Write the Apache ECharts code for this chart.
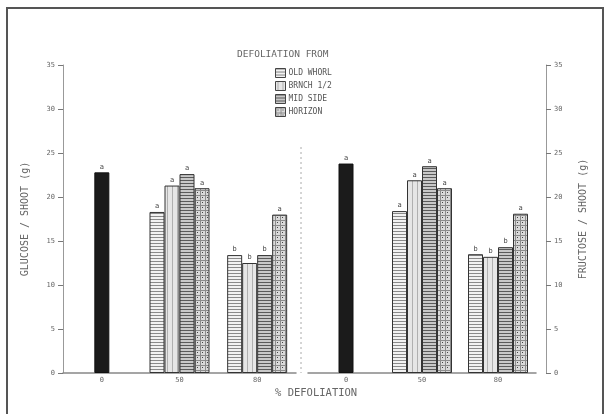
<!DOCTYPE html>
<html>
<head>
<meta charset="utf-8">
<script src="https://cdn.jsdelivr.net/npm/echarts@6/dist/echarts.min.js"></script>
<style>
  html, body { margin: 0; padding: 0; background: #fff; }
  #chart { width: 609px; height: 414px; }
</style>
</head>
<body>
<div id="chart"></div>
<script>
// Defoliation levels (% removed) and the four defoliation positions
const categories = ['0', '50', '80'];
const treatments = ['OLD WHORL', 'BRNCH 1/2', 'MID SIDE', 'HORIZON'];

// Undefoliated control shoots
const glucoseControl = 22.8;
const fructoseControl = 23.8;
const controlLetter = 'a';

// Values per treatment at 50 % and 80 % defoliation
const glucoseOldWhorl = [18.3, 13.4];
const glucoseBranch   = [21.3, 12.5];
const glucoseMidSide  = [22.6, 13.4];
const glucoseHorizon  = [21.0, 18.0];

const fructoseOldWhorl = [18.4, 13.5];
const fructoseBranch   = [21.9, 13.2];
const fructoseMidSide  = [23.5, 14.3];
const fructoseHorizon  = [21.0, 18.1];

// Significance letters per treatment at 50 % and 80 %
const glucoseLetters  = [['a', 'b'], ['a', 'b'], ['a', 'b'], ['a', 'a']];
const fructoseLetters = [['a', 'b'], ['a', 'b'], ['a', 'b'], ['a', 'a']];

const yTicks = [0, 5, 10, 15, 20, 25, 30, 35];

const glucose = [glucoseOldWhorl, glucoseBranch, glucoseMidSide, glucoseHorizon];
const fructose = [fructoseOldWhorl, fructoseBranch, fructoseMidSide, fructoseHorizon];

// Hatch fills drawn on small tiles
function tile(w, h, draw) {
  const c = document.createElement('canvas');
  c.width = w; c.height = h;
  const g = c.getContext('2d');
  draw(g, w, h);
  return { image: c, repeat: 'repeat' };
}
const fills = [
  // horizontal stripes
  tile(4, 6, (g, w, h) => {
    g.fillStyle = '#f2f2f2'; g.fillRect(0, 0, w, h);
    g.fillStyle = '#8a8a8a'; g.fillRect(0, 0, w, 1); g.fillRect(0, 3, w, 1);
  }),
  // light vertical stripes
  tile(5, 4, (g, w, h) => {
    g.fillStyle = '#e6e6e6'; g.fillRect(0, 0, w, h);
    g.fillStyle = '#b0b0b0'; g.fillRect(2, 0, 1, h);
  }),
  // dense horizontal stripes
  tile(4, 3, (g, w, h) => {
    g.fillStyle = '#c8c8c8'; g.fillRect(0, 0, w, h);
    g.fillStyle = '#5a5a5a'; g.fillRect(0, 0, w, 1);
  }),
  // cross-hatch with dots
  tile(5, 5, (g, w, h) => {
    g.fillStyle = '#dadada'; g.fillRect(0, 0, w, h);
    g.fillStyle = '#8c8c8c'; g.fillRect(0, 0, w, 1); g.fillRect(0, 0, 1, h);
    g.fillStyle = '#444'; g.fillRect(2, 2, 1, 1);
  })
];

const FONT = 'DejaVu Sans Mono';
const INK = '#666';

function catAxis(gridIndex, show) {
  return {
    type: 'category', gridIndex, data: categories,
    show: true,
    axisLine: { show: show, lineStyle: { color: '#888', width: 1.5 } },
    axisTick: { show: false },
    axisLabel: { show: show, fontFamily: FONT, fontSize: 7, color: INK, margin: 4 }
  };
}
function valAxis(gridIndex, position, name, offset, gap) {
  return {
    type: 'value', gridIndex, position, offset: offset || 0,
    min: yTicks[0], max: yTicks[yTicks.length - 1], interval: 5,
    name, nameLocation: 'middle', nameRotate: 90, nameGap: gap,
    nameTextStyle: { fontFamily: FONT, fontSize: 10, color: INK },
    splitLine: { show: false },
    axisLine: { show: true, lineStyle: { color: '#999', width: 1 } },
    axisTick: { show: true, inside: false, length: 5, lineStyle: { color: '#777' } },
    axisLabel: { fontFamily: FONT, fontSize: 7, color: INK, margin: 8 }
  };
}

const barLabel = (letters) => ({
  show: true, position: 'top', distance: 2,
  fontFamily: FONT, fontSize: 7, color: '#444',
  formatter: (p) => letters[p.dataIndex] || ''
});

const series = [];
// control bars, centred alone on their own category slot
[[glucoseControl, 1, 0], [fructoseControl, 3, 1]].forEach(([v, xi, yi]) => {
  series.push({
    type: 'bar', name: 'CONTROL', xAxisIndex: xi, yAxisIndex: yi,
    data: [v, '-', '-'], barWidth: 15,
    itemStyle: { color: '#1b1b1b', borderColor: '#111', borderWidth: 1 },
    label: barLabel([controlLetter]),
    silent: true
  });
});
// grouped treatment bars
[[glucose, glucoseLetters, 0, 0], [fructose, fructoseLetters, 2, 1]].forEach(([vals, lets, xi, yi]) => {
  treatments.forEach((t, i) => {
    series.push({
      type: 'bar', name: t, xAxisIndex: xi, yAxisIndex: yi,
      data: ['-', vals[i][0], vals[i][1]],
      barWidth: 15, barGap: '0%',
      itemStyle: { color: fills[i], borderColor: '#333', borderWidth: 1 },
      label: barLabel(['', lets[i][0], lets[i][1]])
    });
  });
});

const chart = echarts.init(document.getElementById('chart'), null, { renderer: 'canvas' });
chart.setOption({
  animation: false,
  backgroundColor: '#fff',
  grid: [
    { left: 63, width: 233, top: 65, bottom: 41 },
    { left: 308, width: 228, top: 65, bottom: 41 }
  ],
  xAxis: [catAxis(0, true), catAxis(0, false), catAxis(1, true), catAxis(1, false)],
  yAxis: [
    valAxis(0, 'left', 'GLUCOSE / SHOOT (g)', 0, 33),
    valAxis(1, 'right', 'FRUCTOSE / SHOOT (g)', 10, 32)
  ],
  legend: {
    data: treatments, orient: 'vertical', left: 270, top: 63,
    itemWidth: 10, itemHeight: 9, itemGap: 3, icon: 'rect',
    selectedMode: false,
    itemStyle: { borderColor: '#444', borderWidth: 1 },
    textStyle: { fontFamily: FONT, fontSize: 8, color: '#555', padding: [0, 0, 0, -2] }
  },
  graphic: [
    { type: 'polyline', shape: { points: [[7, 414], [7, 8], [603, 8], [603, 414]] },
      style: { stroke: '#555', lineWidth: 2, fill: null }, silent: true },
    { type: 'text', left: 237, top: 50,
      style: { text: 'DEFOLIATION FROM', fontFamily: FONT, fontSize: 9.5, fill: INK } },
    { type: 'text', left: 275, top: 388,
      style: { text: '% DEFOLIATION', fontFamily: FONT, fontSize: 10.5, fill: INK } },
    { type: 'line', shape: { x1: 301, y1: 147, x2: 301, y2: 373 },
      style: { stroke: '#aaa', lineWidth: 1, lineDash: [2, 3] }, silent: true }
  ],
  series
});
</script>
</body>
</html>
